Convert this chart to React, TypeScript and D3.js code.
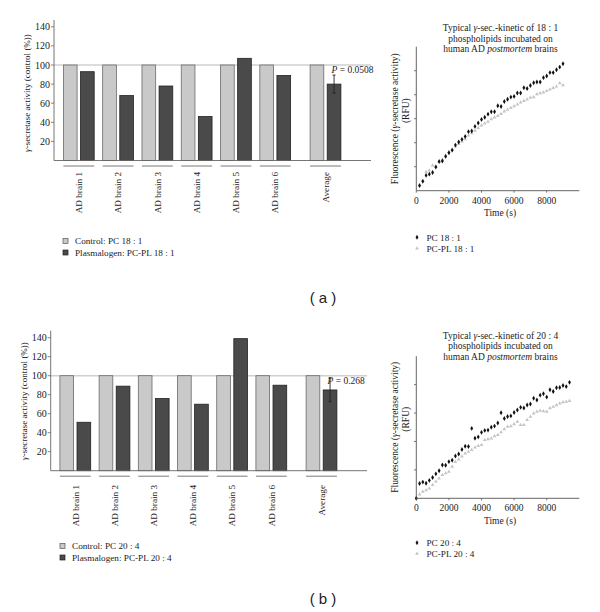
import * as d3 from 'd3';

// bar charts: gamma-secretase activity per brain, % of control
const brains = ['AD brain 1', 'AD brain 2', 'AD brain 3', 'AD brain 4', 'AD brain 5', 'AD brain 6', 'Average'];
const control181 = [100, 100, 100, 100, 100, 100, 100];
const plasmalogen181 = [93, 68, 78, 46, 107, 89, 80];
const avgErr181 = 9.4;
const control204 = [100, 100, 100, 100, 100, 100, 100];
const plasmalogen204 = [51, 89, 76, 70, 139, 90, 85];
const avgErr204 = 12.3;
const barTicks = [20, 40, 60, 80, 100, 120, 140];

// kinetics (RFU, arbitrary units)
const time181 = [200, 400, 600, 800, 1000, 1200, 1400, 1600, 1800, 2000, 2200, 2400, 2600, 2800, 3000, 3200, 3400, 3600, 3800, 4000, 4200, 4400, 4600, 4800, 5000, 5200, 5400, 5600, 5800, 6000, 6200, 6400, 6600, 6800, 7000, 7200, 7400, 7600, 7800, 8000, 8200, 8400, 8600, 8800, 9000];
const pc181 = [0.21, 0.39, 0.64, 0.69, 0.76, 0.99, 1.22, 1.24, 1.43, 1.58, 1.69, 1.9, 2.03, 2.14, 2.26, 2.46, 2.49, 2.68, 2.82, 2.97, 3.06, 3.19, 3.29, 3.29, 3.54, 3.51, 3.72, 3.81, 3.9, 3.93, 4.07, 4.07, 4.29, 4.26, 4.38, 4.5, 4.53, 4.53, 4.71, 4.78, 4.92, 4.92, 5.04, 5.15, 5.29];
const pcpl181 = [0.25, 0.42, 0.78, 0.85, 1.05, 1.0, 1.2, 1.3, 1.48, 1.62, 1.72, 1.85, 1.95, 2.05, 2.15, 2.3, 2.4, 2.5, 2.62, 2.72, 2.8, 2.88, 2.98, 3.05, 3.12, 3.2, 3.3, 3.38, 3.45, 3.52, 3.6, 3.68, 3.74, 3.8, 3.88, 3.9, 4.02, 4.06, 4.1, 4.16, 4.22, 4.28, 4.34, 4.48, 4.4];
const time204 = [0, 200, 400, 600, 800, 1000, 1200, 1400, 1600, 1800, 2000, 2200, 2400, 2600, 2800, 3000, 3200, 3400, 3600, 3800, 4000, 4200, 4400, 4600, 4800, 5000, 5200, 5400, 5600, 5800, 6000, 6200, 6400, 6600, 6800, 7000, 7200, 7400, 7600, 7800, 8000, 8200, 8400, 8600, 8800, 9000, 9200, 9400];
const pc204 = [0, 0.52, 0.57, 0.53, 0.63, 0.73, 0.86, 0.97, 1.17, 1.16, 1.29, 1.34, 1.49, 1.56, 1.72, 1.83, 1.82, 2.46, 2.11, 2.16, 2.32, 2.39, 2.4, 2.5, 2.54, 2.65, 3.01, 2.81, 2.88, 2.9, 3.02, 3.11, 3.2, 3.18, 3.28, 3.32, 3.52, 3.46, 3.63, 3.68, 3.56, 3.82, 3.76, 3.89, 3.9, 3.97, 3.93, 4.08];
const pcpl204 = [0, 0.14, 0.23, 0.29, 0.35, 0.47, 0.59, 0.7, 0.82, 0.88, 0.94, 1.11, 1.28, 1.37, 1.47, 1.58, 1.64, 1.7, 1.79, 1.84, 1.88, 2.05, 2.08, 2.11, 2.19, 2.23, 2.33, 2.43, 2.52, 2.54, 2.61, 2.7, 2.58, 2.58, 2.76, 2.87, 2.99, 3.05, 3.08, 3.07, 3.05, 3.17, 3.22, 3.28, 3.34, 3.38, 3.4, 3.43];
const timeTicks = [0, 2000, 4000, 6000, 8000];

const SERIF = "'Liberation Serif', 'DejaVu Serif', serif";
const LIGHT = '#c9c9c9';
const DARK = '#4a4a4a';

interface BarPanelProps {
  control: number[];
  pl: number[];
  err: number;
  pText: string;
  legend: [string, string];
  axisX: number;
  y0: number;
  y140: number;
  yTop: number;
  xEnd: number;
  c1: number;
  cAvg: number;
  labelTop: number;
  legendX: number;
  legendY: number;
  labelY: number;
}

function BarPanel(p: BarPanelProps) {
  const y = d3.scaleLinear().domain([0, 140]).range([p.y0, p.y140]);
  // average sits a bit further out than the regular step
  const slot = (i: number) => (i < 6 ? i : 6.28);
  const x = d3.scaleLinear().domain([0, 6.28]).range([p.c1, p.cAvg]);
  const barW = 13.7;
  const gap = 1.7;
  const avgC = x(slot(6)) + gap + barW / 2;

  return (
    <g fontFamily={SERIF}>
      {/* 100% reference line */}
      <line x1={p.axisX} x2={p.xEnd} y1={y(100)} y2={y(100)} stroke='#d0d0d0' strokeWidth={1.5} />

      {brains.map((b, i) => {
        const c = x(slot(i));
        return (
          <g key={b}>
            <rect x={c - gap - barW} y={y(p.control[i])} width={barW} height={p.y0 - y(p.control[i])}
              fill={LIGHT} stroke='#6a6a6a' strokeWidth={0.8} />
            <rect x={c + gap} y={y(p.pl[i])} width={barW} height={p.y0 - y(p.pl[i])}
              fill={DARK} stroke='#222' strokeWidth={0.8} />
            <line x1={c - gap - barW} x2={c + gap + barW} y1={p.y0 + 5.5} y2={p.y0 + 5.5} stroke='#555' strokeWidth={0.8} />
            <text transform={`translate(${c + 3.2},${p.labelTop}) rotate(-90)`} textAnchor='end' fontSize={9.2} fill='#222'>
              {b}
            </text>
          </g>
        );
      })}

      {/* error bar on average */}
      <g stroke='#222' strokeWidth={0.9}>
        <line x1={avgC} x2={avgC} y1={y(p.pl[6] + p.err)} y2={y(p.pl[6] - p.err)} />
        <line x1={avgC - 1.5} x2={avgC + 1.5} y1={y(p.pl[6] + p.err)} y2={y(p.pl[6] + p.err)} />
        <line x1={avgC - 1.5} x2={avgC + 1.5} y1={y(p.pl[6] - p.err)} y2={y(p.pl[6] - p.err)} />
      </g>
      <text x={avgC - 2.5} y={y(100) + 8} fontSize={9.5} fill='#222'>
        <tspan fontStyle='italic'>P</tspan> = {p.pText}
      </text>

      {/* axes */}
      <line x1={p.axisX} x2={p.axisX} y1={p.yTop} y2={p.y0} stroke='#666' strokeWidth={0.9} />
      <line x1={p.axisX} x2={p.xEnd} y1={p.y0} y2={p.y0} stroke='#666' strokeWidth={0.9} />
      {barTicks.map((t) => (
        <g key={t}>
          <line x1={p.axisX - 3} x2={p.axisX} y1={y(t)} y2={y(t)} stroke='#666' strokeWidth={0.8} />
          <text x={p.axisX - 4} y={y(t)} dy='0.35em' textAnchor='end' fontSize={10} fill='#222'>{t}</text>
        </g>
      ))}
      <text transform={`translate(${p.axisX - 24},${p.labelY}) rotate(-90)`} textAnchor='middle' fontSize={9} fill='#222'>
        <tspan fontStyle='italic'>γ</tspan>-secretase activity (control (%))
      </text>

      {/* legend */}
      {[LIGHT, DARK].map((col, i) => (
        <g key={col}>
          <rect x={p.legendX} y={p.legendY + i * 11.5 - 2.5} width={5} height={5} fill={col} stroke={i ? '#222' : '#555'} strokeWidth={0.7} />
          <text x={p.legendX + 12} y={p.legendY + i * 11.5} dy='0.35em' fontSize={9.2} fill='#222'>{p.legend[i]}</text>
        </g>
      ))}
    </g>
  );
}

interface KineticProps {
  time: number[];
  pc: number[];
  pcpl: number[];
  yMax: number;
  yTop: number;
  y0: number;
  title: string;
  titleY: number;
  legend: [string, string];
  legendY: number;
}

function KineticPanel(p: KineticProps) {
  const x = d3.scaleLinear().domain([0, 10000]).range([416.3, 579.3]);
  const y = d3.scaleLinear().domain([0, p.yMax]).range([p.y0, p.yTop]);
  const diamond = d3.symbol(d3.symbolDiamond, 7)()!;
  const tri = d3.symbol(d3.symbolTriangle, 6)()!;
  const yTicks = d3.range(1, p.yMax);
  const midY = (p.y0 + p.yTop) / 2;

  return (
    <g fontFamily={SERIF} fill='#222'>
      <text x={500.5} y={p.titleY} textAnchor='middle' fontSize={9.5}>
        Typical <tspan fontStyle='italic'>γ</tspan>{p.title}
      </text>
      <text x={500.5} y={p.titleY + 10.5} textAnchor='middle' fontSize={9.5}>phospholipids incubated on</text>
      <text x={500.5} y={p.titleY + 21} textAnchor='middle' fontSize={9.5}>
        human AD <tspan fontStyle='italic'>postmortem</tspan> brains
      </text>

      {p.pcpl.map((v, i) => (
        <path key={'g' + i} d={tri} transform={`translate(${x(p.time[i])},${y(v)})`} fill='#c4c4c4' />
      ))}
      {p.pc.map((v, i) => (
        <path key={'b' + i} d={diamond} transform={`translate(${x(p.time[i])},${y(v)})`} fill='#111' />
      ))}

      <line x1={416.3} x2={416.3} y1={p.yTop} y2={p.y0} stroke='#555' strokeWidth={0.9} />
      <line x1={416.3} x2={579.3} y1={p.y0} y2={p.y0} stroke='#555' strokeWidth={0.9} />
      {yTicks.map((t) => (
        <line key={t} x1={414} x2={416.3} y1={y(t)} y2={y(t)} stroke='#555' strokeWidth={0.8} />
      ))}
      {timeTicks.map((t) => (
        <g key={t}>
          <line x1={x(t)} x2={x(t)} y1={p.y0} y2={p.y0 + 2} stroke='#555' strokeWidth={0.8} />
          <text x={x(t)} y={p.y0 + 13} textAnchor='middle' fontSize={9.5}>{t}</text>
        </g>
      ))}
      <text x={500} y={p.y0 + 25.5} textAnchor='middle' fontSize={9.5}>Time (s)</text>
      <text transform={`translate(398,${midY}) rotate(-90)`} textAnchor='middle' fontSize={9.5}>
        Fluorescence (<tspan fontStyle='italic'>γ</tspan>-secretase activity)
      </text>
      <text transform={`translate(408.5,${midY - 8}) rotate(-90)`} textAnchor='middle' fontSize={9.5}>(RFU)</text>

      <path d={diamond} transform={`translate(417,${p.legendY})`} fill='#111' />
      <text x={426.5} y={p.legendY} dy='0.35em' fontSize={9.2}>{p.legend[0]}</text>
      <path d={tri} transform={`translate(417,${p.legendY + 11})`} fill='#c4c4c4' />
      <text x={426.5} y={p.legendY + 11} dy='0.35em' fontSize={9.2}>{p.legend[1]}</text>
    </g>
  );
}

export default function App() {
  return (
    <svg width={600} height={612} style={{ position: 'absolute', left: 0, top: 0, background: '#fff' }}>
      <rect width={600} height={612} fill='#fff' />
      <BarPanel control={control181} pl={plasmalogen181} err={avgErr181} pText='0.0508'
        legend={['Control: PC 18 : 1', 'Plasmalogen: PC-PL 18 : 1']}
        axisX={54} y0={160.5} y140={26.8} yTop={20} xEnd={371} c1={78.8} cAvg={325.5}
        labelTop={172} legendX={63} legendY={241} labelY={93} />
      <KineticPanel time={time181} pc={pc181} pcpl={pcpl181} yMax={6} yTop={46.7} y0={190.7}
        title='-sec.-kinetic of 18 : 1' titleY={31}
        legend={['PC 18 : 1', 'PC-PL 18 : 1']} legendY={237.3} />
      <text x={323} y={303} textAnchor='middle' fontSize={15} fontFamily="'Liberation Sans', Arial, sans-serif" fill='#222'>( a )</text>

      <BarPanel control={control204} pl={plasmalogen204} err={avgErr204} pText='0.268'
        legend={['Control: PC 20 : 4', 'Plasmalogen: PC-PL 20 : 4']}
        axisX={50.7} y0={470.7} y140={337.7} yTop={330.7} xEnd={367} c1={75.3} cAvg={321.5}
        labelTop={485} legendX={60} legendY={546} labelY={401} />
      <KineticPanel time={time204} pc={pc204} pcpl={pcpl204} yMax={5} yTop={356.2} y0={498.3}
        title='-sec.-kinetic of 20 : 4' titleY={338.5}
        legend={['PC 20 : 4', 'PC-PL 20 : 4']} legendY={542.7} />
      <text x={323} y={604} textAnchor='middle' fontSize={15} fontFamily="'Liberation Sans', Arial, sans-serif" fill='#222'>( b )</text>
    </svg>
  );
}
